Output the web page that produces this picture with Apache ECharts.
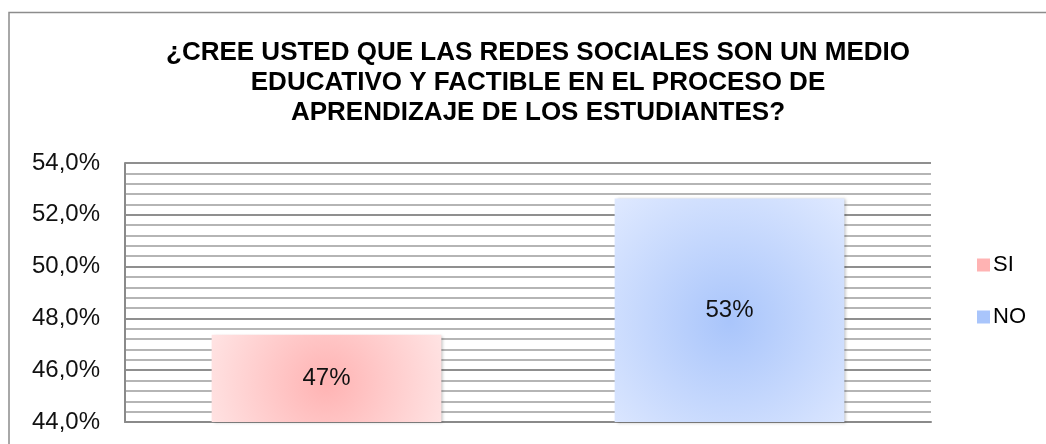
<!DOCTYPE html>
<html>
<head>
<meta charset="utf-8">
<title>Redes sociales</title>
<script src="https://cdn.jsdelivr.net/npm/echarts@6.0.0/dist/echarts.min.js"></script>
<style>
  html, body { margin: 0; padding: 0; background: #fff; }
  #chart { width: 1046px; height: 444px; }
</style>
</head>
<body>
<div id="chart"></div>
<script>
// datos
const categories = ["SI", "NO"];
const values = [47.37, 52.63];
const barLabels = ["47%", "53%"];
const yMin = 44;
const yMax = 54;
const yStep = 2;

const titleText =
  "¿CREE USTED QUE LAS REDES SOCIALES SON UN MEDIO\n" +
  "EDUCATIVO Y FACTIBLE EN EL PROCESO DE\n" +
  "APRENDIZAJE DE LOS ESTUDIANTES?";

// colores (centro, borde) y radio del degradado radial de cada barra
const fills = [
  ["#ffb3b3", "#ffe4e4"],
  ["#a9c5fb", "#dfe9ff"],
];
const fillRadius = [1.45, 0.75];

const chart = echarts.init(document.getElementById("chart"));

const series = categories.map((name, i) => ({
  name: name,
  type: "bar",
  barWidth: "57%",
  barGap: "-100%",
  data: categories.map((c, j) => (j === i ? values[i] : "-")),
  itemStyle: {
    color: {
      type: "radial",
      x: 0.5,
      y: 0.55,
      r: fillRadius[i],
      colorStops: [
        { offset: 0, color: fills[i][0] },
        { offset: 1, color: fills[i][1] },
      ],
    },
    shadowBlur: 3,
    shadowOffsetX: 2,
    shadowOffsetY: 1,
    shadowColor: "rgba(0,0,0,0.25)",
  },
  label: {
    show: true,
    position: "inside",
    color: "#111",
    fontFamily: "Liberation Sans",
    fontSize: 24,
    formatter: () => barLabels[i],
  },
}));

const option = {
  animation: false,
  backgroundColor: "#fff",
  title: {
    text: titleText,
    left: 533,
    top: 33,
    textAlign: "center",
    textStyle: {
      fontFamily: "Liberation Sans",
      fontWeight: "bold",
      fontSize: 26,
      lineHeight: 30,
      color: "#000",
    },
  },
  // marco exterior del grafico
  graphic: [
    {
      type: "rect",
      shape: { x: 9, y: 12.5, width: 1100, height: 500 },
      style: { fill: "none", stroke: "#8c8c8c", lineWidth: 1.5 },
      silent: true,
    },
  ],
  legend: {
    orient: "vertical",
    left: 972,
    top: 249,
    itemWidth: 13,
    itemHeight: 13,
    itemGap: 30,
    textStyle: {
      fontFamily: "Liberation Sans",
      fontSize: 22,
      color: "#000",
      padding: [0, 0, 0, -2],
    },
    data: categories.map((name, i) => ({
      name: name,
      icon: "rect",
      itemStyle: { color: fills[i][0] },
    })),
  },
  grid: {
    left: 125,
    right: 115,
    top: 163,
    bottom: 22,
  },
  xAxis: {
    type: "category",
    data: categories,
    axisLine: { show: true, lineStyle: { color: "#8a8a8a", width: 2 } },
    axisTick: { show: false },
    axisLabel: { show: false },
  },
  yAxis: {
    type: "value",
    min: yMin,
    max: yMax,
    interval: yStep,
    axisLine: { show: true, lineStyle: { color: "#8a8a8a", width: 2 } },
    axisTick: { show: false },
    axisLabel: {
      margin: 25,
      fontFamily: "Liberation Sans",
      fontSize: 24,
      color: "#111",
      formatter: (v) => v.toFixed(1).replace(".", ",") + "%",
    },
    splitLine: { show: true, lineStyle: { color: "#8f8f8f", width: 2 } },
    minorTick: { show: false, splitNumber: 5 },
    minorSplitLine: { show: true, lineStyle: { color: "#b5b5b5", width: 2 } },
  },
  series: series,
};

chart.setOption(option);
</script>
</body>
</html>
